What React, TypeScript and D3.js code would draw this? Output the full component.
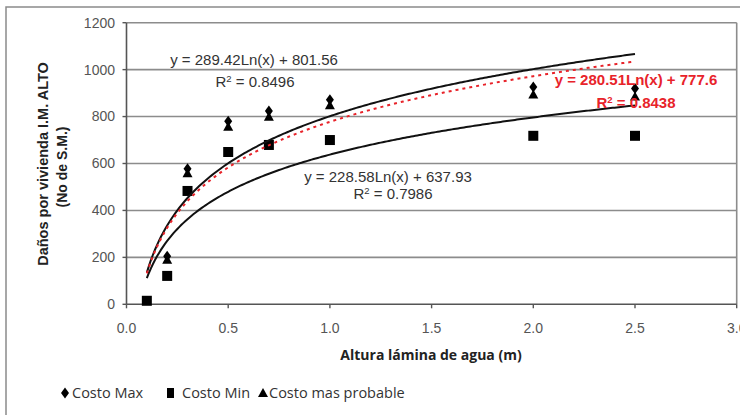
import React from 'react'
import * as d3 from 'd3'

const depths = [0.1, 0.2, 0.3, 0.5, 0.7, 1.0, 2.0, 2.5]
const costMax = [15, 205, 578, 780, 824, 872, 926, 920]
const costMin = [15, 121, 483, 649, 679, 700, 718, 718]
const costProb = [15, 190, 558, 757, 799, 848, 894, 886]

// trend lines y = a*ln(x) + b, as printed on the chart
const trendNames = ['max', 'min', 'prob']
const trendA = [289.42, 228.58, 280.51]
const trendB = [801.56, 637.93, 777.6]
const trendColor = ['#111', '#111', '#e8232a']
const trendDash = ['none', 'none', '3 4']

const yTicks = [0, 200, 400, 600, 800, 1000, 1200]
const xTicks = [0, 0.5, 1, 1.5, 2, 2.5, 3]

const W = 740
const H = 415
const margin = { left: 126.5, top: 22.7, right: 3.3, bottom: 110.7 }

const diamond = (cx, cy) => `M${cx},${cy - 5.5}L${cx + 4},${cy}L${cx},${cy + 5.5}L${cx - 4},${cy}Z`
const triangle = (cx, cy) => `M${cx},${cy - 5}L${cx + 5},${cy + 4}L${cx - 5},${cy + 4}Z`

const App = () => {
  const x = d3.scaleLinear().domain([0, 3]).range([margin.left, W - margin.right])
  const y = d3.scaleLinear().domain([0, 1200]).range([H - margin.bottom, margin.top])

  const xs = d3.range(0.1, 2.5001, 0.01)
  const line = d3.line<number[]>().x(d => x(d[0])).y(d => y(d[1]))

  const tickFont = 'Arial, "Liberation Sans", sans-serif'
  const legFont = '"Open Sans", sans-serif'

  return (
    <svg width={W} height={H} style={{ position: 'absolute', left: 0, top: 0, background: '#fff' }}>
      <rect x={6} y={7} width={800} height={420} fill="#fff" stroke="#8a8a8a" strokeWidth={1.5} />

      {/* grid */}
      {yTicks.slice(1).map(t => (
        <line key={t} x1={x(0)} x2={x(3)} y1={y(t)} y2={y(t)} stroke="#8c8c8c" strokeWidth={1.6} />
      ))}
      <line x1={x(3)} x2={x(3)} y1={y(0)} y2={y(1200)} stroke="#8c8c8c" strokeWidth={1.6} />

      {/* axes */}
      <line x1={x(0)} x2={x(0)} y1={y(0)} y2={y(1200)} stroke="#555" strokeWidth={1.6} />
      <line x1={x(0)} x2={x(3)} y1={y(0)} y2={y(0)} stroke="#555" strokeWidth={1.6} />
      {yTicks.map(t => (
        <g key={t}>
          <line x1={x(0) - 4} x2={x(0)} y1={y(t)} y2={y(t)} stroke="#555" strokeWidth={1.4} />
          <text x={115} y={y(t)} dy="0.35em" textAnchor="end" fontFamily={tickFont} fontSize={14} fill="#555">{t}</text>
        </g>
      ))}
      {xTicks.map(t => (
        <g key={t}>
          <line x1={x(t)} x2={x(t)} y1={y(0)} y2={y(0) + 4} stroke="#555" strokeWidth={1.4} />
          <text x={x(t)} y={328} dy="0.35em" textAnchor="middle" fontFamily={tickFont} fontSize={14} fill="#555">{t.toFixed(1)}</text>
        </g>
      ))}

      {/* axis titles */}
      <g transform="translate(43,164) rotate(-90)">
        <text textAnchor="middle" dy="0.35em" fontFamily={tickFont} fontWeight="bold" fontSize={14.5} fill="#222">Daños por vivienda I.M. ALTO</text>
      </g>
      <g transform="translate(62,167) rotate(-90)">
        <text textAnchor="middle" dy="0.35em" fontFamily={tickFont} fontWeight="bold" fontSize={14} fill="#222">(No de S.M.)</text>
      </g>
      <text x={431} y={355} dy="0.35em" textAnchor="middle" fontFamily={legFont} fontWeight="bold" fontSize={14} fill="#222">Altura lámina de agua (m)</text>

      {/* markers */}
      {depths.map((d, i) => (
        <rect key={'s' + i} x={x(d) - 5} y={y(costMin[i]) - 5} width={10} height={10} fill="#000" />
      ))}
      {depths.map((d, i) => i > 0 && (
        <path key={'d' + i} d={diamond(x(d), y(costMax[i]))} fill="#000" />
      ))}
      {depths.map((d, i) => i > 0 && (
        <path key={'t' + i} d={triangle(x(d), y(costProb[i]))} fill="#000" />
      ))}

      {/* trend lines */}
      {trendNames.map((n, k) => (
        <path key={n} d={line(xs.map(v => [v, trendA[k] * Math.log(v) + trendB[k]])) || ''}
          fill="none" stroke={trendColor[k]} strokeWidth={2} strokeDasharray={trendDash[k]} />
      ))}

      {/* equations */}
      <g fontFamily={tickFont} fontSize={15} fill="#333" textAnchor="middle">
        <text x={254} y={60} dy="0.35em">y = 289.42Ln(x) + 801.56</text>
        <text x={255} y={82} dy="0.35em">R<tspan dy="-5" fontSize={9.5}>2</tspan><tspan dy="5"> = 0.8496</tspan></text>
        <text x={388} y={177} dy="0.35em">y = 228.58Ln(x) + 637.93</text>
        <text x={393} y={194} dy="0.35em">R<tspan dy="-5" fontSize={9.5}>2</tspan><tspan dy="5"> = 0.7986</tspan></text>
      </g>
      <g fontFamily={tickFont} fontSize={15} fontWeight="bold" fill="#e8232a" textAnchor="middle">
        <text x={636} y={80} dy="0.35em">y = 280.51Ln(x) + 777.6</text>
        <text x={636} y={103} dy="0.35em">R<tspan dy="-5" fontSize={9.5}>2</tspan><tspan dy="5"> = 0.8438</tspan></text>
      </g>

      {/* legend */}
      <g fontFamily={legFont} fontSize={14.5} fill="#333">
        <path d={diamond(65, 393)} fill="#000" />
        <text x={72} y={393} dy="0.35em">Costo Max</text>
        <rect x={167} y={388} width={7} height={10} fill="#000" />
        <text x={182} y={393} dy="0.35em">Costo Min</text>
        <path d={triangle(263, 393)} fill="#000" />
        <text x={269} y={393} dy="0.35em">Costo mas probable</text>
      </g>
    </svg>
  )
}

export default App
